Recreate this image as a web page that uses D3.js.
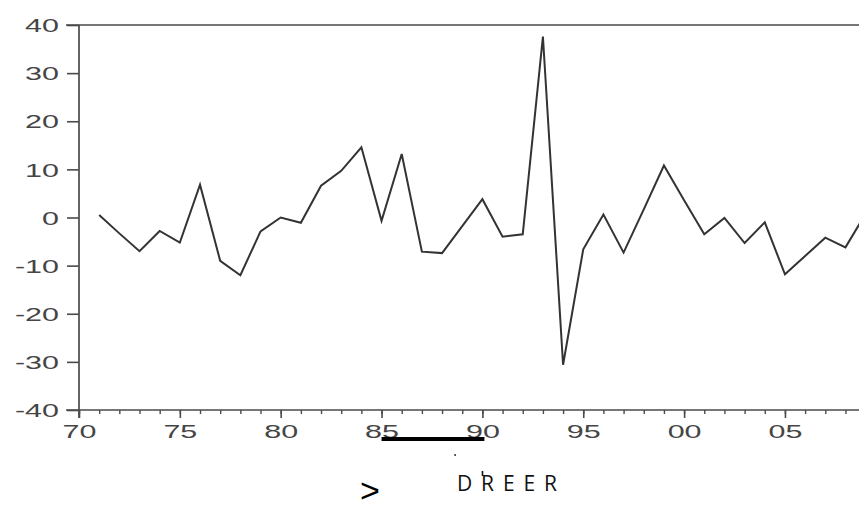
<!DOCTYPE html>
<html>
<head>
<meta charset="utf-8">
<script src="https://cdn.jsdelivr.net/npm/d3@7"></script>
<style>
  html, body { margin: 0; padding: 0; background: #fff; }
  svg { display: block; }
</style>
</head>
<body>
<svg id="chart" width="859" height="510"></svg>
<script>
// ---- data ----
const years = [1971,1972,1973,1974,1975,1976,1977,1978,1979,1980,
               1981,1982,1983,1984,1985,1986,1987,1988,1989,1990,
               1991,1992,1993,1994,1995,1996,1997,1998,1999,2000,
               2001,2002,2003,2004,2005,2006,2007,2008,2009];
const values = [0.5,-3.3,-7.0,-2.8,-5.2,6.8,-9.0,-12.0,-2.9,0.0,
                -1.1,6.6,9.7,14.6,-0.7,13.2,-7.1,-7.4,-1.8,3.8,
                -4.0,-3.5,37.6,-30.6,-6.6,0.6,-7.3,1.7,10.8,3.6,
                -3.5,-0.1,-5.3,-1.0,-11.8,-8.0,-4.2,-6.2,0.8];
const yTicks = [-40,-30,-20,-10,0,10,20,30,40];
const xMajorTicks = [1970,1975,1980,1985,1990,1995,2000,2005];
const xMinorTicks = d3.range(1970, 2010);
const seriesLabel = "D R E E R";
const markLabel = ">";

// ---- layout ----
const svg = d3.select("#chart");
const plotLeft = 79, plotTop = 25, plotBottom = 410;
const pxPerYear = 20.17;
const x = d3.scaleLinear().domain([1970, 2009.5]).range([plotLeft, plotLeft + 39.5 * pxPerYear]);
const y = d3.scaleLinear().domain([-40, 40]).range([plotBottom, plotTop]);

const axisColor = "#4a4a4a";
const textColor = "#454545";
const labelFont = "'Liberation Sans', Arial, sans-serif";

// frame lines: top, left, bottom
svg.append("line").attr("x1", plotLeft - 13).attr("x2", 900)
  .attr("y1", y(40)).attr("y2", y(40))
  .attr("stroke", axisColor).attr("stroke-width", 1.7);
svg.append("line").attr("x1", plotLeft).attr("x2", plotLeft)
  .attr("y1", y(40)).attr("y2", y(-40) + 8)
  .attr("stroke", axisColor).attr("stroke-width", 1.7);
svg.append("line").attr("x1", plotLeft - 13).attr("x2", 900)
  .attr("y1", y(-40)).attr("y2", y(-40))
  .attr("stroke", axisColor).attr("stroke-width", 1.7);

// y axis
const yAxis = d3.axisLeft(y).tickValues(yTicks).tickSize(12).tickPadding(8)
  .tickFormat(d => String(d));
const gy = svg.append("g").attr("transform", `translate(${plotLeft},0)`).call(yAxis);
gy.select(".domain").remove();
gy.selectAll(".tick line").attr("stroke", axisColor).attr("stroke-width", 1.6);
gy.selectAll(".tick text")
  .attr("fill", textColor)
  .style("font-family", labelFont)
  .style("font-size", "18.5px")
  .attr("dy", "0.36em")
  .attr("transform", function() {
    const tx = +d3.select(this).attr("x");
    return `translate(${tx},0) scale(1.65,1) translate(${-tx},0)`;
  });

// x axis minor ticks
const xMinor = d3.axisBottom(x).tickValues(xMinorTicks).tickSize(4).tickFormat("");
const gxm = svg.append("g").attr("transform", `translate(0,${plotBottom})`).call(xMinor);
gxm.select(".domain").remove();
gxm.selectAll(".tick line").attr("stroke", axisColor).attr("stroke-width", 1.4);

// x axis major ticks + labels
const xMajor = d3.axisBottom(x).tickValues(xMajorTicks).tickSize(8).tickPadding(6)
  .tickFormat(d => String(d % 100).padStart(2, "0"));
const gx = svg.append("g").attr("transform", `translate(0,${plotBottom})`).call(xMajor);
gx.select(".domain").remove();
gx.selectAll(".tick line").attr("stroke", axisColor).attr("stroke-width", 1.6);
gx.selectAll(".tick text")
  .attr("fill", textColor)
  .style("font-family", labelFont)
  .style("font-size", "18.5px")
  .attr("dy", "0.75em")
  .attr("x", 0)
  .attr("transform", "scale(1.65,1)");

// series line
const line = d3.line().x((d, i) => x(years[i])).y(d => y(d));
svg.append("path").datum(values)
  .attr("d", line)
  .attr("fill", "none")
  .attr("stroke", "#333")
  .attr("stroke-width", 2)
  .attr("stroke-linejoin", "miter");

// overlay annotations
svg.append("rect").attr("x", x(1985)).attr("y", 437)
  .attr("width", x(1990) - x(1985) + 2).attr("height", 4).attr("fill", "#000");
svg.append("rect").attr("x", 454.5).attr("y", 454).attr("width", 1.2).attr("height", 2).attr("fill", "#000");
svg.append("text").attr("x", 457).attr("y", 491)
  .attr("textLength", 100).attr("lengthAdjust", "spacing")
  .style("font-family", "'Open Sans', Lato, sans-serif")
  .style("font-size", "21px")
  .attr("fill", "#111")
  .text(seriesLabel);
svg.append("line").attr("x1", 482.5).attr("x2", 482.5).attr("y1", 471).attr("y2", 476)
  .attr("stroke", "#111").attr("stroke-width", 1.6);
svg.append("text").attr("x", 360).attr("y", 502)
  .style("font-family", labelFont)
  .style("font-size", "34px")
  .attr("fill", "#000")
  .text(markLabel);
</script>
</body>
</html>
